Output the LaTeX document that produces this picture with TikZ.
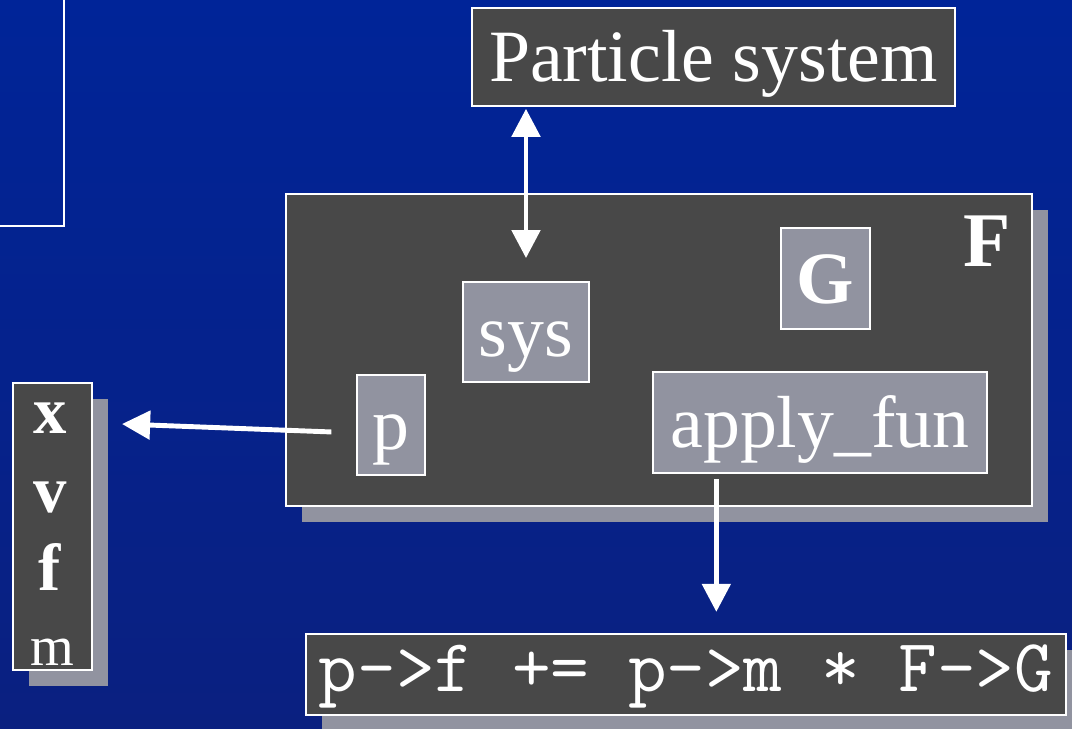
\documentclass[tikz,border=0pt]{standalone}
\usepackage{fontspec}
\setmainfont{Liberation Serif}
\usetikzlibrary{arrows.meta,shadows}
\definecolor{slidetop}{RGB}{0,36,152}
\definecolor{slidebot}{RGB}{10,32,128}
\definecolor{boxdark}{RGB}{72,72,72}
\definecolor{boxgray}{RGB}{145,147,160}

\begin{document}
\begin{tikzpicture}[x=0.02cm, y=-0.02cm,
  >={Triangle[length=16pt,width=16pt]},
  dark/.style={draw=white, line width=1.2pt, fill=boxdark, text=white, inner sep=0pt},
  light/.style={draw=white, line width=1.2pt, fill=boxgray, text=white, inner sep=0pt},
  shade/.style={general shadow={fill=boxgray, shadow xshift=9pt, shadow yshift=-9pt}},
  big/.style={font=\fontsize{42pt}{48pt}\selectfont, text height=32pt, text depth=3.7pt},
  code/.style={font=\ttfamily\fontsize{42.7pt}{46pt}\selectfont, text height=24pt, text depth=4.2pt},
  letter/.style={text=white, inner sep=0pt, anchor=base},
  arr/.style={draw=white, line width=2.8pt}]
\useasboundingbox (0,0) rectangle (1072,729);
\clip (0,0) rectangle (1072,729);
\shade[top color=slidetop, bottom color=slidebot] (0,0) rectangle (1072,729);
% box cut off at the corner
\draw[white, line width=1.2pt] (-20,-20) rectangle (64,226);

\node[dark, big, minimum width=9.66cm, minimum height=1.96cm] (psys) at (713.5,57) {Particle system};
\node[dark, shade, minimum width=14.92cm, minimum height=6.24cm] (F) at (659,350) {};
\node[letter, font=\bfseries\fontsize{44pt}{48pt}\selectfont] (Flabel) at (987,267) {F};
\node[light, big, minimum width=1.78cm, minimum height=2.02cm] (G) at (825.5,278.5) {\textbf{G}};
\node[light, big, minimum width=2.52cm, minimum height=2cm] (sys) at (526,332) {sys};
\node[light, big, minimum width=1.36cm, minimum height=2cm] (p) at (391,425) {p};
\node[light, big, minimum width=6.68cm, minimum height=2.02cm] (apply) at (820,422.5) {apply\_fun};
\node[dark, shade, code, minimum width=15.2cm, minimum height=1.62cm] (code) at (686,674.5) {p->f += p->m * F->G};

% particle fields
\node[dark, shade, minimum width=1.58cm, minimum height=5.74cm] (vars) at (52.5,526.5) {};
\foreach \t/\y in {x/434, v/512, f/590}
  \node[letter, font=\bfseries\fontsize{38pt}{40pt}\selectfont] (l\t) at (50,\y) {\t};
\node[letter, font=\fontsize{32pt}{36pt}\selectfont] (lm) at (52,665) {m};

\coordinate (xin) at (122,424);
\draw[arr, <->, shorten <=1pt, shorten >=13pt] (sys.north |- psys.south) -- (sys.north);
\draw[arr, ->, shorten <=14pt] ([yshift=-4.5pt]p.west) -- (xin);
\draw[arr, ->, shorten <=3pt, shorten >=12pt] ([xshift=-59pt]apply.south) -- ([xshift=-59pt]apply.south |- code.north);
\end{tikzpicture}
\end{document}
